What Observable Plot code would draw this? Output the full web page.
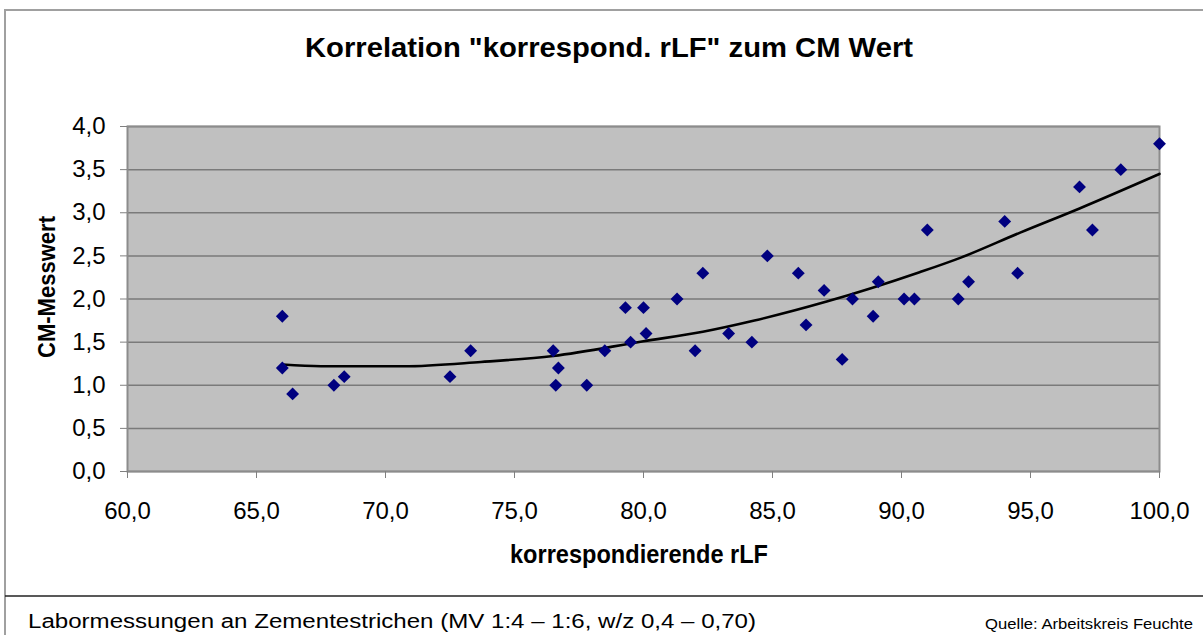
<!DOCTYPE html>
<html>
<head>
<meta charset="utf-8">
<script src="https://cdn.jsdelivr.net/npm/d3@7"></script>
<script src="https://cdn.jsdelivr.net/npm/@observablehq/plot@0.6"></script>
<style>
  html, body { margin: 0; padding: 0; background: #fff; overflow: hidden; }
  #chart svg { display: block; }
</style>
</head>
<body>
<div id="chart"></div>
<script>
// Measured points: corresponding rLF (x) vs CM reading (y)
const rlf = [66.0, 66.0, 66.4, 68.0, 68.4, 72.5, 73.3, 76.5, 76.7, 76.6, 77.8, 78.5, 79.3, 79.5, 80.0, 80.1, 81.3, 82.0, 82.3, 83.3, 84.2, 84.8, 86.0, 86.3, 87.0, 87.7, 88.1, 88.9, 89.1, 90.1, 90.5, 91.0, 92.2, 92.6, 94.0, 94.5, 96.9, 97.4, 98.5, 100.0];
const cm  = [1.8, 1.2, 0.9, 1.0, 1.1, 1.1, 1.4, 1.4, 1.2, 1.0, 1.0, 1.4, 1.9, 1.5, 1.9, 1.6, 2.0, 1.4, 2.3, 1.6, 1.5, 2.5, 2.3, 1.7, 2.1, 1.3, 2.0, 1.8, 2.2, 2.0, 2.0, 2.8, 2.0, 2.2, 2.9, 2.3, 3.3, 2.8, 3.5, 3.8];

// Trend line
const trendX = [66.0, 67.5, 70.7, 73.7, 76.5, 80.0, 82.3, 84.3, 87.1, 90.7, 92.3, 94.6, 96.9, 100.0];
const trendY = [1.24, 1.22, 1.22, 1.27, 1.34, 1.51, 1.62, 1.75, 1.97, 2.31, 2.48, 2.77, 3.05, 3.45];

// Tick values
const xTicks = [60, 65, 70, 75, 80, 85, 90, 95, 100];
const yTicks = [0, 0.5, 1, 1.5, 2, 2.5, 3, 3.5, 4];

const title = 'Korrelation "korrespond. rLF" zum CM Wert';
const xTitle = "korrespondierende rLF";
const yTitle = "CM-Messwert";
const footnote = "Labormessungen an Zementestrichen (MV 1:4 – 1:6, w/z 0,4 – 0,70)";
const source = "Quelle: Arbeitskreis Feuchte";

const points = rlf.map((x, i) => ({x, y: cm[i]}));
const trend = trendX.map((x, i) => ({x, y: trendY[i]}));
const fmt = d => d.toFixed(1).replace(".", ",");

const svg = Plot.plot({
  width: 1203,
  height: 635,
  marginLeft: 127,
  marginRight: 44,
  marginTop: 126,
  marginBottom: 164,
  style: {fontFamily: "'Liberation Sans', Arial, sans-serif", fontSize: "24px", background: "#fff", color: "#000"},
  x: {domain: [60, 100], label: null},
  y: {domain: [0, 4], label: null},
  marks: [
    Plot.frame({fill: "#c0c0c0"}),
    Plot.gridY(yTicks, {stroke: "#7a7a7a", strokeOpacity: 1, strokeWidth: 1.5}),
    Plot.frame({stroke: "#8c8c8c", strokeWidth: 2}),
    Plot.axisX(xTicks, {tickSize: 7, tickPadding: 23, tickFormat: fmt, stroke: "#808080", label: null}),
    Plot.axisY(yTicks, {tickSize: 7, tickPadding: 15, tickFormat: fmt, stroke: "#808080", label: null}),
    Plot.line(trend, {x: "x", y: "y", stroke: "#000", strokeWidth: 2.6, curve: "monotone-x"}),
    Plot.dot(points, {x: "x", y: "y", symbol: "diamond2", r: 5.8, fill: "#000080", stroke: "none"})
  ]
});

const s = d3.select(svg);
const ff = "'Liberation Sans', Arial, sans-serif";
// outer borders
s.append("line").attr("x1", 4).attr("x2", 1203).attr("y1", 10).attr("y2", 10).attr("stroke", "#a0a0a0").attr("stroke-width", 2);
s.append("line").attr("x1", 5).attr("x2", 5).attr("y1", 10).attr("y2", 635).attr("stroke", "#a0a0a0").attr("stroke-width", 2);
s.append("line").attr("x1", 5).attr("x2", 1203).attr("y1", 596).attr("y2", 596).attr("stroke", "#222").attr("stroke-width", 1.5);

function label(text, x, y, size, weight, len, anchor = "start", rotate = 0) {
  const t = s.append("text")
    .attr("font-family", ff).attr("font-size", size).attr("font-weight", weight)
    .attr("fill", "#000").attr("text-anchor", anchor)
    .attr("textLength", len).attr("lengthAdjust", "spacingAndGlyphs")
    .text(text);
  if (rotate) t.attr("transform", `translate(${x},${y}) rotate(${rotate})`);
  else t.attr("x", x).attr("y", y);
  return t;
}
label(title, 305, 57, 28.5, "bold", 608);
label(xTitle, 510, 563.3, 25, "bold", 258);
label(yTitle, 55, 287, 24.5, "bold", 142, "middle", -90);
label(footnote, 28, 628.3, 19.5, "normal", 728);
label(source, 985, 629, 14, "normal", 208);

document.getElementById("chart").appendChild(svg);
</script>
</body>
</html>
